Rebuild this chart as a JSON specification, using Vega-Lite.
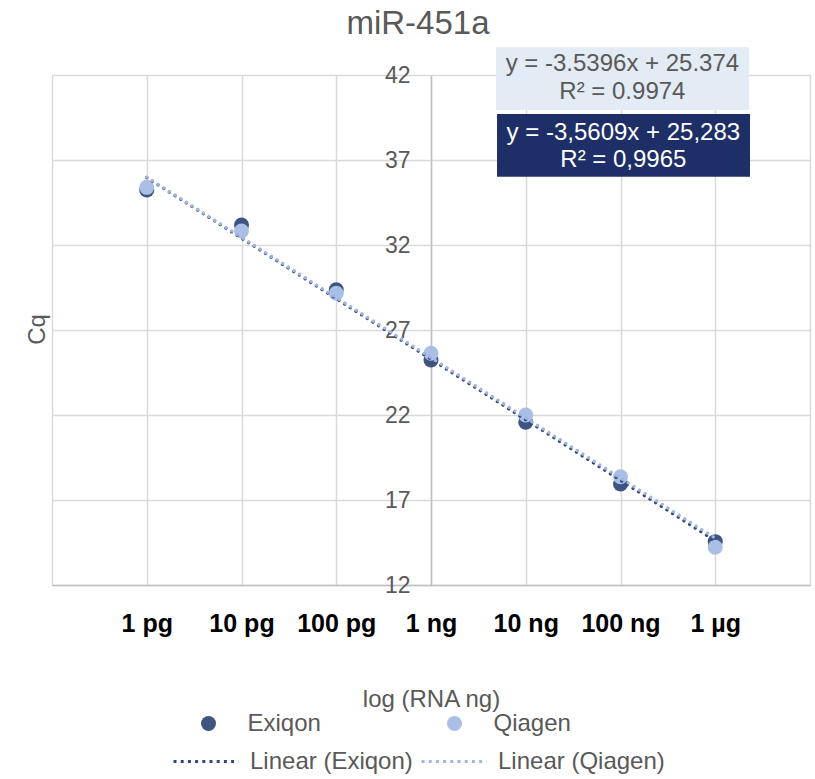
{
  "$schema": "https://vega.github.io/schema/vega-lite/v6.json",
  "width": 758,
  "height": 510,
  "autosize": {"type": "none"},
  "padding": {"left": 52, "top": 75, "right": 5, "bottom": 194},
  "background": "white",
  "config": {
    "font": "Liberation Sans",
    "view": {"stroke": null},
    "legend": {"padding": 0}
  },
  "title": {
    "text": "miR-451a",
    "fontSize": 33,
    "fontWeight": "normal",
    "color": "#595959",
    "font": "Liberation Sans",
    "anchor": "middle",
    "frame": "group",
    "baseline": "alphabetic",
    "offset": 14,
    "dx": -13,
    "dy": 34
  },
  "datasets": {
    "pts": [
      {"series": "Exiqon", "x": -3, "cq": 35.24},
      {"series": "Exiqon", "x": -2, "cq": 33.18},
      {"series": "Exiqon", "x": -1, "cq": 29.37},
      {"series": "Exiqon", "x": 0, "cq": 25.24},
      {"series": "Exiqon", "x": 1, "cq": 21.57},
      {"series": "Exiqon", "x": 2, "cq": 17.94},
      {"series": "Exiqon", "x": 3, "cq": 14.55},
      {"series": "Qiagen", "x": -3, "cq": 35.39},
      {"series": "Qiagen", "x": -2, "cq": 32.82},
      {"series": "Qiagen", "x": -1, "cq": 29.16},
      {"series": "Qiagen", "x": 0, "cq": 25.63},
      {"series": "Qiagen", "x": 1, "cq": 22.0},
      {"series": "Qiagen", "x": 2, "cq": 18.37},
      {"series": "Qiagen", "x": 3, "cq": 14.22}
    ],
    "trend": [
      {"trend": "Linear (Exiqon)", "x": -3, "cq": 35.966},
      {"trend": "Linear (Exiqon)", "x": 3, "cq": 14.600},
      {"trend": "Linear (Qiagen)", "x": -3, "cq": 35.993},
      {"trend": "Linear (Qiagen)", "x": 3, "cq": 14.755}
    ],
    "boxes": [
      {"box": "Qiagen", "x": 0.686, "x2": 3.356, "cq": 39.94, "cq2": 43.63},
      {"box": "Exiqon", "x": 0.697, "x2": 3.367, "cq": 36.02, "cq2": 39.71}
    ],
    "boxtext": [
      {"box": "Qiagen", "x": 2.02, "cq": 42.62, "label": "y = -3.5396x + 25.374"},
      {"box": "Qiagen", "x": 2.02, "cq": 41.0, "label": "R² = 0.9974"},
      {"box": "Exiqon", "x": 2.03, "cq": 38.59, "label": "y = -3,5609x + 25,283"},
      {"box": "Exiqon", "x": 2.03, "cq": 37.0, "label": "R² = 0,9965"}
    ]
  },
  "encoding": {
    "x": {
      "field": "x",
      "type": "quantitative",
      "scale": {"domain": [-4, 4], "nice": false, "zero": false},
      "axis": {
        "values": [-4, -3, -2, -1, 0, 1, 2, 3, 4],
        "labelExpr": "datum.value == -3 ? '1 pg' : datum.value == -2 ? '10 pg' : datum.value == -1 ? '100 pg' : datum.value == 0 ? '1 ng' : datum.value == 1 ? '10 ng' : datum.value == 2 ? '100 ng' : datum.value == 3 ? '1 µg' : ''",
        "grid": true,
        "gridColor": "#d9d9d9",
        "gridWidth": 1.5,
        "domainColor": "#bfbfbf",
        "domainWidth": 1.5,
        "ticks": false,
        "labelFont": "Liberation Sans",
        "labelFontSize": 25,
        "labelFontWeight": "bold",
        "labelColor": "#000000",
        "labelPadding": 26,
        "labelFlush": false,
        "labelOverlap": false,
        "title": "log (RNA ng)",
        "titleFont": "Liberation Sans",
        "titleFontSize": 24,
        "titleFontWeight": "normal",
        "titleColor": "#595959",
        "titlePadding": 51
      }
    },
    "y": {
      "field": "cq",
      "type": "quantitative",
      "scale": {"domain": [12, 42], "nice": false, "zero": false},
      "axis": {
        "values": [12, 17, 22, 27, 32, 37, 42],
        "offset": -379,
        "grid": true,
        "gridColor": "#d9d9d9",
        "gridWidth": 1.5,
        "domainColor": "#bfbfbf",
        "domainWidth": 1.5,
        "ticks": false,
        "labelFont": "Liberation Sans",
        "labelFontSize": 23,
        "labelColor": "#595959",
        "labelPadding": 21,
        "labelOverlap": false,
        "labelFlush": false,
        "title": "Cq",
        "titleFont": "Liberation Sans",
        "titleFontSize": 24,
        "titleFontWeight": "normal",
        "titleColor": "#595959",
        "titleX": -394,
        "titleY": 254,
        "titleAngle": -90,
        "titleBaseline": "middle",
        "titleAlign": "center"
      }
    }
  },
  "layer": [
    {
      "data": {"name": "boxes"},
      "transform": [{"filter": "datum.box == 'Qiagen'"}],
      "mark": {"type": "rect", "fill": "#e3ebf4"},
      "encoding": {"x2": {"field": "x2"}, "y2": {"field": "cq2"}}
    },
    {
      "data": {"name": "boxes"},
      "transform": [{"filter": "datum.box == 'Exiqon'"}],
      "mark": {"type": "rect", "fill": "#1d2f66"},
      "encoding": {"x2": {"field": "x2"}, "y2": {"field": "cq2"}}
    },
    {
      "data": {"name": "boxtext"},
      "transform": [{"filter": "datum.box == 'Qiagen'"}],
      "mark": {"type": "text", "font": "Liberation Sans", "fontSize": 24, "color": "#595959", "align": "center", "baseline": "middle"},
      "encoding": {"text": {"field": "label"}}
    },
    {
      "data": {"name": "boxtext"},
      "transform": [{"filter": "datum.box == 'Exiqon'"}],
      "mark": {"type": "text", "font": "Liberation Sans", "fontSize": 24, "color": "#ffffff", "align": "center", "baseline": "middle"},
      "encoding": {"text": {"field": "label"}}
    },
    {
      "data": {"name": "pts"},
      "mark": {"type": "point", "filled": true, "size": 225, "opacity": 1, "shape": "circle"},
      "encoding": {
        "color": {
          "field": "series",
          "type": "nominal",
          "scale": {"domain": ["Exiqon", "Qiagen"], "range": ["#3e5582", "#aabfe6"]},
          "legend": {
            "title": null,
            "orient": "none",
            "legendX": 144.5,
            "legendY": 636.5,
            "direction": "horizontal",
            "columns": 2,
            "columnPadding": 121,
            "symbolType": "circle",
            "symbolSize": 225,
            "symbolStrokeWidth": 0,
            "symbolOpacity": 1,
            "labelFont": "Liberation Sans",
            "labelFontSize": 24,
            "labelColor": "#595959",
            "labelOffset": 27,
            "labelLimit": 400
          }
        }
      }
    },
    {
      "data": {"name": "trend"},
      "mark": {"type": "line", "strokeWidth": 3.3, "strokeDash": [0.01, 6.7], "strokeCap": "round"},
      "encoding": {
        "color": {
          "field": "trend",
          "type": "nominal",
          "scale": {"domain": ["Linear (Exiqon)", "Linear (Qiagen)"], "range": ["#34497a", "#a0b5e1"]},
          "legend": {
            "title": null,
            "orient": "none",
            "legendX": 120,
            "legendY": 652.5,
            "direction": "horizontal",
            "columns": 2,
            "columnPadding": 2,
            "symbolType": "stroke",
            "symbolSize": 4225,
            "symbolStrokeWidth": 3,
            "symbolDash": [3, 4.2],
            "labelFont": "Liberation Sans",
            "labelFontSize": 24,
            "labelColor": "#595959",
            "labelOffset": 10,
            "labelLimit": 400
          }
        }
      }
    }
  ],
  "resolve": {"scale": {"color": "independent"}}
}
